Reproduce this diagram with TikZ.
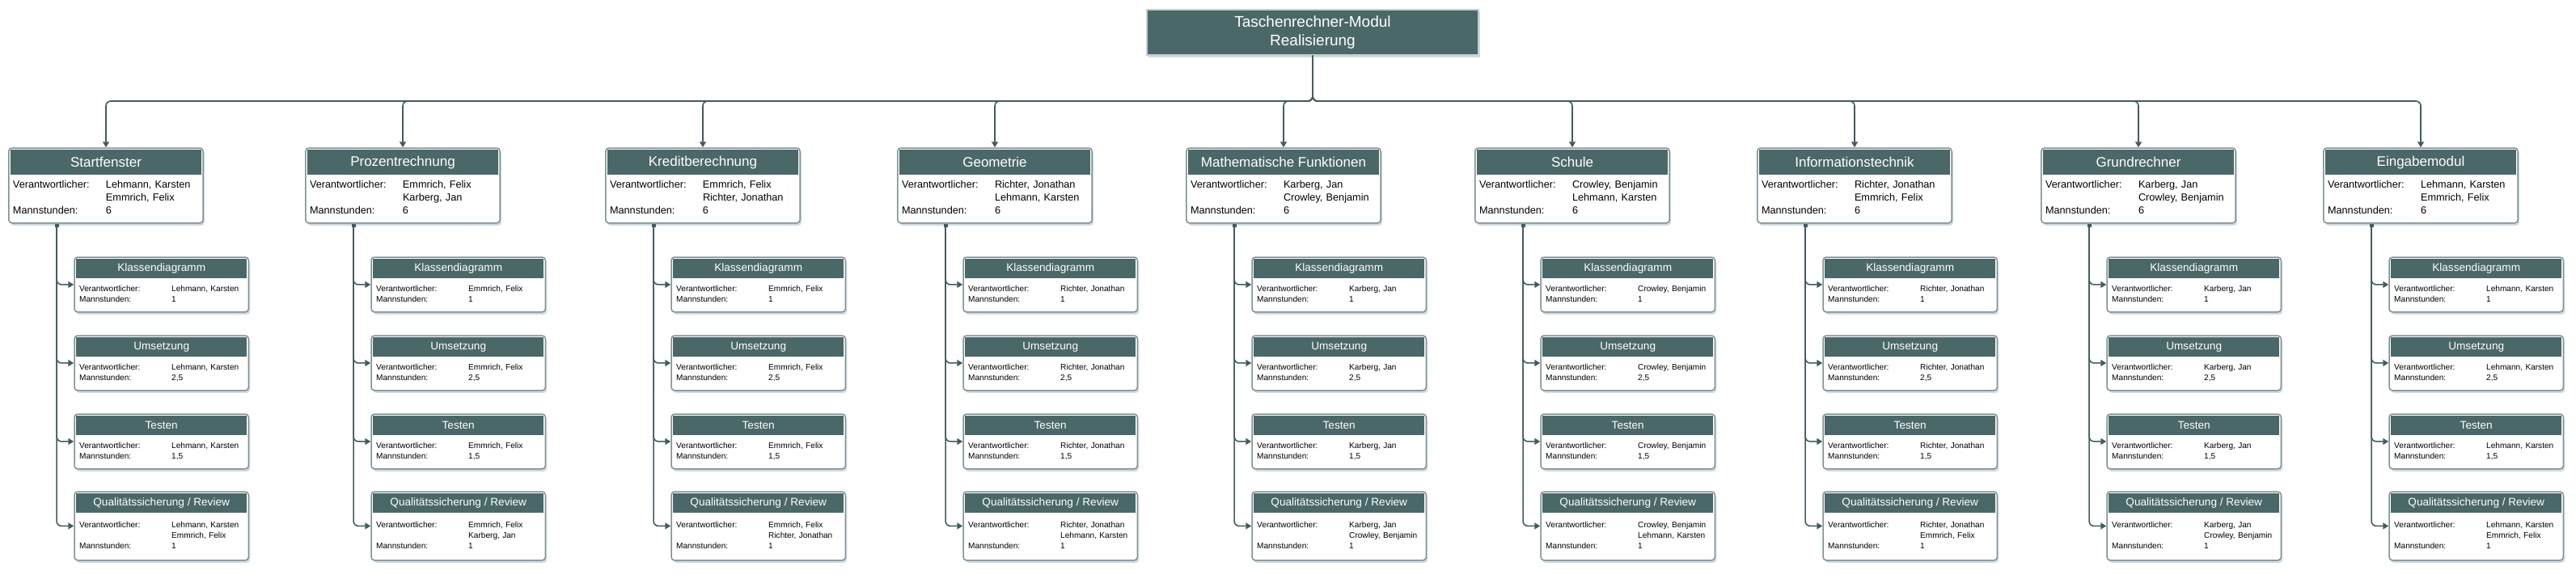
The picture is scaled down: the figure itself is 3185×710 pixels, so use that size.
\documentclass[tikz,border=0pt]{standalone}
\usepackage{fontspec}
\setmainfont{Liberation Sans}
\usetikzlibrary{arrows.meta,positioning,fit,backgrounds,shadows}
\definecolor{wbsteal}{RGB}{75,104,105}
\definecolor{wbsframe}{RGB}{125,145,147}
\definecolor{wbsline}{RGB}{66,92,94}
\definecolor{wbsshadow}{RGB}{190,202,214}
\tikzstyle{boxframe}=[draw=wbsframe, line width=1.5pt, fill=white, rounded corners=4pt, inner sep=2pt, drop shadow={shadow xshift=2pt, shadow yshift=-3pt, fill=wbsshadow, opacity=0.7}]
\tikzstyle{mainhead}=[fill=wbsteal, text=white, anchor=north, inner sep=0pt, minimum width=236pt, minimum height=31pt, font=\fontsize{17}{20}\selectfont]
\tikzstyle{mainbody}=[anchor=north, inner sep=0pt, minimum width=236pt, minimum height=57pt, text width=230pt, align=left, font=\fontsize{12.7}{16}\selectfont]
\tikzstyle{subhead}=[mainhead, anchor=north west, minimum width=211pt, minimum height=24pt, font=\fontsize{13.6}{16}\selectfont]
\tikzstyle{subbody}=[mainbody, minimum width=211pt, text width=203pt, font=\fontsize{10.1}{13}\selectfont]
\tikzstyle{conn}=[draw=wbsline, line width=1.6pt, rounded corners=6pt, -{Triangle[length=7pt,width=8pt]}]
\tikzstyle{substem}=[conn, {Square[length=4pt,width=5pt]}-{Triangle[length=7pt,width=8pt]}]
\newcommand{\mainpackage}[4]{% name, center x, title, rows
  \node[mainhead] (#1h) at (#2,185) {#3};
  \node[mainbody] (#1b) at (#1h.south) {\begin{tabular}{@{}p{115pt}@{}l@{}}#4\end{tabular}};
  \begin{scope}[on background layer]
    \node[boxframe, fit=(#1h)(#1b)] (#1) {};
  \end{scope}
}
\newcommand{\subpackage}[6]{% name, left x, top y, title, rows, body height
  \node[subhead] (#1h) at (#2,#3) {#4};
  \node[subbody, minimum height=#6pt] (#1b) at (#1h.south) {\begin{tabular}{@{}p{114pt}@{}l@{}}#5\end{tabular}};
  \begin{scope}[on background layer]
    \node[boxframe, fit=(#1h)(#1b)] (#1) {};
  \end{scope}
}
\begin{document}
\begin{tikzpicture}[x=1pt,y=-1pt]
\useasboundingbox (0,0) rectangle (3185,710);
\node[fill=wbsteal, draw=wbsframe!45, line width=1.5pt, text=white, align=center, minimum width=410pt, minimum height=56pt, inner sep=0pt,
  font=\fontsize{19}{23}\selectfont, drop shadow={shadow xshift=2pt, shadow yshift=-3pt, fill=wbsshadow, opacity=0.7}]
  (root) at (1623,40) {Taschenrechner-Modul\\Realisierung};
\coordinate (bus) at (1623,125);
\foreach \col/\x/\title/\pa/\pb in {1/131/Startfenster/{Lehmann, Karsten}/{Emmrich, Felix},
  2/498/Prozentrechnung/{Emmrich, Felix}/{Karberg, Jan},
  3/869/Kreditberechnung/{Emmrich, Felix}/{Richter, Jonathan},
  4/1230/Geometrie/{Richter, Jonathan}/{Lehmann, Karsten},
  5/1587/Mathematische Funktionen/{Karberg, Jan}/{Crowley, Benjamin},
  6/1944/Schule/{Crowley, Benjamin}/{Lehmann, Karsten},
  7/2293/Informationstechnik/{Richter, Jonathan}/{Emmrich, Felix},
  8/2644/Grundrechner/{Karberg, Jan}/{Crowley, Benjamin},
  9/2993/Eingabemodul/{Lehmann, Karsten}/{Emmrich, Felix}}{
  \mainpackage{p\col}{\x}{\title}{Verantwortlicher: & \pa\\ & \pb\\ Mannstunden: & 6}
  \pgfmathsetmacro{\lx}{\x-37}
  \subpackage{p\col-k}{\lx}{320}{Klassendiagramm}{Verantwortlicher: & \pa\\ Mannstunden: & 1}{39}
  \subpackage{p\col-u}{\lx}{417}{Umsetzung}{Verantwortlicher: & \pa\\ Mannstunden: & 2,5}{39}
  \subpackage{p\col-t}{\lx}{514}{Testen}{Verantwortlicher: & \pa\\ Mannstunden: & 1,5}{39}
  \subpackage{p\col-q}{\lx}{610}{Qualitätssicherung / Review}{Verantwortlicher: & \pa\\ & \pb\\ Mannstunden: & 1}{56}
  \draw[conn] (root.south) -- (bus) -| (p\col.north);
  \foreach \s in {k,u,t,q}
    \draw[substem] ([xshift=60pt]p\col.south west) |- (p\col-\s.west);
}
\end{tikzpicture}
\end{document}
